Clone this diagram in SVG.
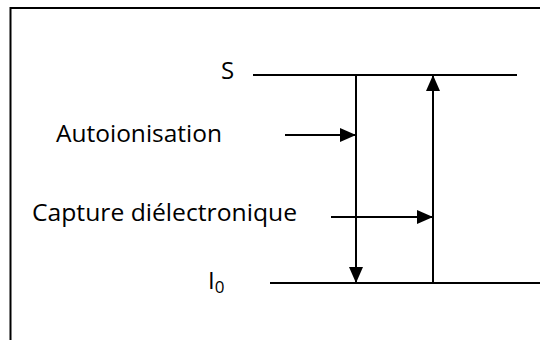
<svg xmlns="http://www.w3.org/2000/svg" width="540" height="340" viewBox="0 0 540 340">
<defs>
<style>
.t{font-family:"Open Sans","Noto Sans","DejaVu Sans",sans-serif;font-size:24px;fill:#000}
.ln{stroke:#000;stroke-width:2;fill:none}
.fr{stroke:#000;stroke-width:2;fill:none}
</style>
<marker id="ah" viewBox="0 0 16 14" refX="16" refY="7" markerWidth="16" markerHeight="14" markerUnits="userSpaceOnUse" orient="auto">
<path d="M0,0 L16,7 L0,14 Z" fill="#000"/>
</marker>
</defs>
<rect width="540" height="340" fill="#fff"/>
<path class="fr" d="M10.5,340 V8 H540"/>
<g id="level-S">
<line class="ln" x1="253" y1="75" x2="517" y2="75"/>
<text class="t" x="221" y="79">S</text>
</g>
<g id="level-I0">
<line class="ln" x1="270" y1="283" x2="540" y2="283"/>
<text class="t" x="208" y="289">I<tspan font-size="17" dy="4">0</tspan></text>
</g>
<g id="label-autoionisation">
<text class="t" x="56" y="142" textLength="166" lengthAdjust="spacingAndGlyphs">Autoionisation</text>
</g>
<g id="label-capture">
<text class="t" x="32" y="221" textLength="265" lengthAdjust="spacingAndGlyphs">Capture diélectronique</text>
</g>
<g id="connectors">
<line class="ln" x1="356" y1="75" x2="356" y2="283" marker-end="url(#ah)"/>
<line class="ln" x1="433" y1="283" x2="433" y2="75" marker-end="url(#ah)"/>
<line class="ln" x1="285" y1="135" x2="356" y2="135" marker-end="url(#ah)"/>
<line class="ln" x1="331" y1="217" x2="433" y2="217" marker-end="url(#ah)"/>
</g>
</svg>
